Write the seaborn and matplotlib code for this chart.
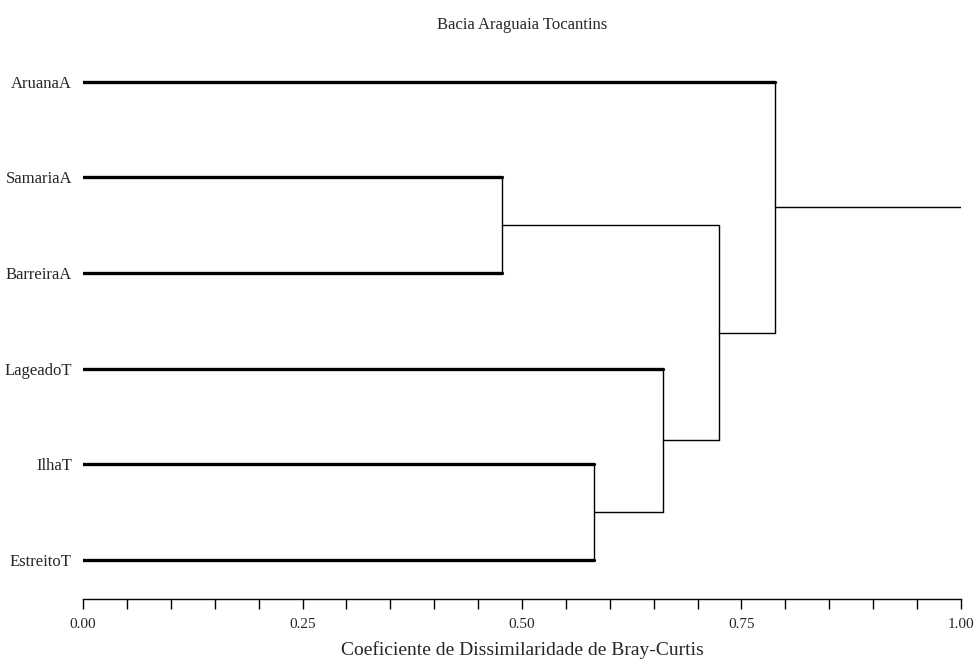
import matplotlib
matplotlib.use("Agg")
import matplotlib.pyplot as plt
import seaborn as sns
import pandas as pd
import numpy as np

# ---- data ----
leaves = ["AruanaA", "SamariaA", "BarreiraA", "LageadoT", "IlhaT", "EstreitoT"]
merge_left = [1, 4, 3, 6, 0]
merge_right = [2, 5, 7, 8, 9]
merge_height = [0.477, 0.582, 0.661, 0.724, 0.788]
root_end = 1.0
x_major = [0.0, 0.25, 0.5, 0.75, 1.0]
title = "Bacia Araguaia Tocantins"
xlabel = "Coeficiente de Dissimilaridade de Bray-Curtis"

sns.set_style("white")
plt.rcParams['font.family'] = ['Liberation Serif', 'DejaVu Serif']

# ---- compute dendrogram segments ----
n = len(leaves)
node_y = {i: float(i) for i in range(n)}
node_h = {i: 0.0 for i in range(n)}
thin, thick = [], []
for k, (a, b, h) in enumerate(zip(merge_left, merge_right, merge_height)):
    nid = n + k
    for c in (a, b):
        seg = dict(x0=node_h[c], x1=h, y0=node_y[c], y1=node_y[c])
        (thick if c < n else thin).append(seg)
    thin.append(dict(x0=h, x1=h, y0=node_y[a], y1=node_y[b]))
    node_y[nid] = (node_y[a] + node_y[b]) / 2
    node_h[nid] = h
root = n + len(merge_height) - 1
thin.append(dict(x0=node_h[root], x1=root_end, y0=node_y[root], y1=node_y[root]))

def to_long(segs):
    rows = []
    for i, s in enumerate(segs):
        rows.append(dict(seg=i, x=s["x0"], y=s["y0"]))
        rows.append(dict(seg=i, x=s["x1"], y=s["y1"]))
    return pd.DataFrame(rows)

W, H = 974, 665
fig = plt.figure(figsize=(W / 100, H / 100), dpi=100)
left_px, right_px, top_px, bot_px = 83, 961, 34, 599
ax = fig.add_axes([left_px / W, 1 - bot_px / H, (right_px - left_px) / W, (bot_px - top_px) / H])

sns.lineplot(data=to_long(thin), x="x", y="y", units="seg", estimator=None, sort=False,
             color="black", linewidth=1.0, ax=ax, legend=False)
sns.lineplot(data=to_long(thick), x="x", y="y", units="seg", estimator=None, sort=False,
             color="black", linewidth=2.4, ax=ax, legend=False)

ax.set_xlim(0, 1.0)
ax.set_ylim(n - 1 + 0.41, -0.5)
ax.set_yticks(range(n))
ax.set_yticklabels(leaves, fontsize=12)
ax.tick_params(axis="y", length=0, pad=8)

ax.set_xticks(x_major)
ax.set_xticklabels([f"{v:.2f}" for v in x_major], fontsize=11)
ax.set_xticks(np.arange(0, 1.0001, 0.05), minor=True)
ax.tick_params(axis="x", which="both", direction="out", length=7, width=1, color="black",
               bottom=True, pad=7)

for s in ["top", "right", "left"]:
    ax.spines[s].set_visible(False)
ax.spines["bottom"].set_color("black")
ax.spines["bottom"].set_linewidth(1.0)

ax.set_xlabel(xlabel, fontsize=14, labelpad=7)
ax.set_ylabel("")
fig.text((left_px + right_px) / 2 / W, 1 - 25 / H, title, ha="center", va="center", fontsize=12)

fig.savefig("out.png", dpi=100)
